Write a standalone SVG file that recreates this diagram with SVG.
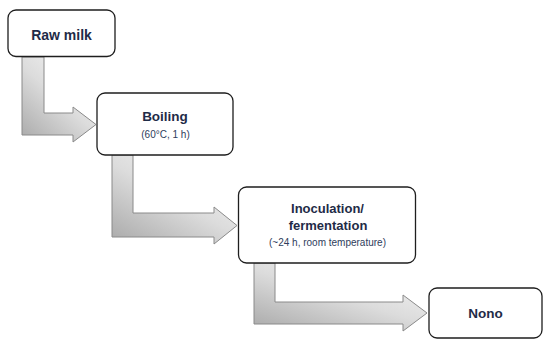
<svg xmlns="http://www.w3.org/2000/svg" width="550" height="346" viewBox="0 0 550 346">
<defs>
<linearGradient id="g" x1="0" y1="1" x2="0.8" y2="0">
<stop offset="0" stop-color="#a8a8a8"/>
<stop offset="0.55" stop-color="#dcdcdc"/>
<stop offset="1" stop-color="#f4f4f4"/>
</linearGradient>
<style>
.box{fill:#fff;stroke:#1e1e1e;stroke-width:1.3}
.arr{fill:url(#g);stroke:#8a8a8a;stroke-width:1}
.t{font-family:"Liberation Sans",Arial,sans-serif;font-weight:bold;fill:#1f2b47;text-anchor:middle}
.s{font-family:"Liberation Sans",Arial,sans-serif;fill:#2e3d5c;text-anchor:middle;font-size:10px}
</style>
</defs>
<rect width="550" height="346" fill="#fff"/>
<g id="connectors">
<path class="arr" d="M22,57 L44,57 L44,113 L73,113 L73,107 L96,124.5 L73,142 L73,135 L22,135 Z"/>
<path class="arr" d="M112,155 L133,155 L133,213 L214,213 L214,207 L237,225.5 L214,244 L214,237 L112,237 Z"/>
<path class="arr" d="M254,263 L275,263 L275,302 L403,302 L403,295 L427,313 L403,331 L403,324 L254,324 Z"/>
</g>
<g id="raw-milk">
<rect class="box" x="8" y="10" width="107" height="46.5" rx="8"/>
<text class="t" x="61.5" y="40" font-size="14">Raw milk</text>
</g>
<g id="boiling">
<rect class="box" x="97" y="93" width="136" height="62" rx="8"/>
<text class="t" x="165" y="121" font-size="13.5">Boiling</text>
<text class="s" x="165.5" y="138" font-size="10.5">(60°C, 1 h)</text>
</g>
<g id="inoculation">
<rect class="box" x="238.5" y="187" width="177" height="76" rx="8"/>
<text class="t" x="327.5" y="213" font-size="13">Inoculation/</text>
<text class="t" x="328" y="229.5" font-size="13">fermentation</text>
<text class="s" x="327.5" y="245.5">(~24 h, room temperature)</text>
</g>
<g id="nono">
<rect class="box" x="429" y="288" width="113" height="50" rx="8"/>
<text class="t" x="485.5" y="318" font-size="13.5">Nono</text>
</g>
</svg>
